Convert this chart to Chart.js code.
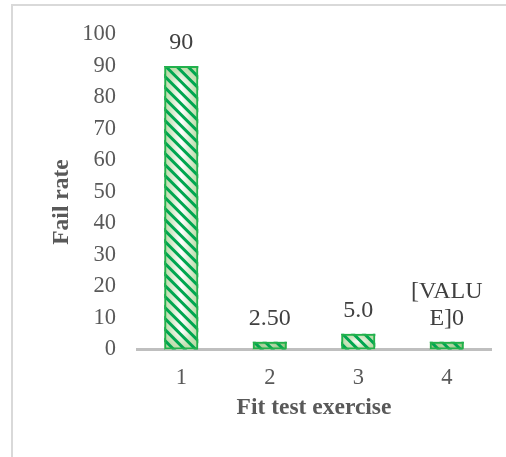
<!DOCTYPE html>
<html>
<head>
<meta charset="utf-8">
<script src="https://cdn.jsdelivr.net/npm/chart.js@4.4.1/dist/chart.umd.min.js"></script>
<style>
  html, body { margin: 0; padding: 0; background: #ffffff; }
  #wrap { position: relative; width: 506px; height: 457px; overflow: hidden; }
  #frame { position: absolute; left: 11px; top: 4px; width: 520px; height: 480px;
           border: 2px solid #d9d9d9; box-sizing: border-box; }
  canvas { position: absolute; left: 0; top: 0; }
</style>
</head>
<body>
<div id="wrap">
  <div id="frame"></div>
  <canvas id="c" width="506" height="457"></canvas>
</div>
<script>
// Fail rate per fit test exercise
const exercises = ['1', '2', '3', '4'];
const failRates = [90, 2.5, 5, 2.5];
const valueLabels = [['90'], ['2.50'], ['5.0'], ['[VALU', 'E]0']];
const yTicks = [0, 10, 20, 30, 40, 50, 60, 70, 80, 90, 100];
const yTitle = 'Fail rate';
const xTitle = 'Fit test exercise';

const SERIF = '"Liberation Serif", "Times New Roman", serif';

// Striped, softly shaded fill painted inside each bar before its outline is drawn
const stripedFill = {
  id: 'stripedFill',
  beforeDatasetsDraw(chart) {
    const ctx = chart.ctx;
    const meta = chart.getDatasetMeta(0);
    meta.data.forEach(bar => {
      const w = bar.width;
      const left = bar.x - w / 2, right = bar.x + w / 2;
      const top = Math.min(bar.y, bar.base), bottom = Math.max(bar.y, bar.base);
      const h = bottom - top;
      ctx.save();
      ctx.beginPath();
      ctx.rect(left, top, w, h);
      ctx.clip();
      const edge = '#b7d9a3';
      const g = ctx.createLinearGradient(left, 0, right, 0);
      g.addColorStop(0, edge);
      g.addColorStop(0.5, '#ffffff');
      g.addColorStop(1, edge);
      ctx.fillStyle = g;
      ctx.fillRect(left, top, w, h);
      // shade towards the top and bottom edges as well
      const d = Math.min(h / 2, w / 2);
      const gt = ctx.createLinearGradient(0, top, 0, top + d);
      gt.addColorStop(0, 'rgba(183,217,163,1)');
      gt.addColorStop(1, 'rgba(183,217,163,0)');
      ctx.fillStyle = gt;
      ctx.fillRect(left, top, w, d);
      const gb = ctx.createLinearGradient(0, bottom, 0, bottom - d);
      gb.addColorStop(0, 'rgba(183,217,163,1)');
      gb.addColorStop(1, 'rgba(183,217,163,0)');
      ctx.fillStyle = gb;
      ctx.fillRect(left, bottom - d, w, d);
      if (h < 12) {
        ctx.fillStyle = 'rgba(110,175,90,0.45)';
        ctx.fillRect(left, top, w, h);
      }
      // diagonal stripes
      ctx.filter = 'blur(0.6px)';
      ctx.strokeStyle = '#00a650';
      ctx.lineWidth = 3;
      const step = 11;
      for (let s = top - w - step; s < bottom + step; s += step) {
        ctx.beginPath();
        ctx.moveTo(left - 2, s - 2);
        ctx.lineTo(right + 2, s + w + 2);
        ctx.stroke();
      }
      ctx.restore();
    });
  }
};

// Value labels above each bar
const valueText = {
  id: 'valueText',
  afterDatasetsDraw(chart) {
    const ctx = chart.ctx;
    const meta = chart.getDatasetMeta(0);
    ctx.save();
    ctx.font = '24px ' + SERIF;
    ctx.fillStyle = '#404040';
    ctx.textAlign = 'center';
    ctx.textBaseline = 'middle';
    meta.data.forEach((bar, i) => {
      const lines = valueLabels[i];
      const lh = 27;
      const lastY = bar.y - 23;
      lines.forEach((t, j) => {
        ctx.fillText(t, bar.x, lastY - (lines.length - 1 - j) * lh);
      });
    });
    ctx.restore();
  }
};

// Vertical axis title, set a little below the middle of the value axis
const yAxisTitle = {
  id: 'yAxisTitle',
  afterDraw(chart) {
    const ctx = chart.ctx;
    const ys = chart.scales.y;
    const cx = ys.left + 14;
    const cy = (ys.top + ys.bottom) / 2 + 10;
    ctx.save();
    ctx.translate(cx, cy);
    ctx.rotate(-Math.PI / 2);
    ctx.font = 'bold 23.5px ' + SERIF;
    ctx.fillStyle = '#595959';
    ctx.textAlign = 'center';
    ctx.textBaseline = 'middle';
    ctx.fillText(yTitle, 0, 0);
    ctx.restore();
  }
};

new Chart(document.getElementById('c'), {
  type: 'bar',
  data: {
    labels: exercises,
    datasets: [{
      data: failRates,
      backgroundColor: 'rgba(0,0,0,0)',
      borderColor: '#22b14c',
      borderWidth: 2,
      borderSkipped: false,
      categoryPercentage: 1,
      barPercentage: 0.385
    }]
  },
  options: {
    responsive: false,
    animation: false,
    events: [],
    layout: { padding: { left: 48, top: 34, right: 15, bottom: 35 } },
    plugins: { legend: { display: false }, tooltip: { enabled: false } },
    scales: {
      x: {
        grid: { display: false, drawTicks: false },
        border: { display: true, color: '#bfbfbf', width: 3 },
        ticks: { color: '#595959', font: { family: SERIF, size: 22.5 }, padding: 15 },
        title: { display: true, text: xTitle, color: '#595959',
                 font: { family: SERIF, size: 23.5, weight: 'bold' }, padding: 0 },
        afterFit(s) { s.height = 72.5; }
      },
      y: {
        min: 0, max: 100,
        afterBuildTicks(s) { s.ticks = yTicks.map(v => ({ value: v })); },
        grid: { display: false, drawTicks: false },
        border: { display: false },
        ticks: { color: '#595959', font: { family: SERIF, size: 22.5 }, padding: 21 },
        afterFit(s) { s.width = 89; }
      }
    }
  },
  plugins: [stripedFill, valueText, yAxisTitle]
});
</script>
</body>
</html>
